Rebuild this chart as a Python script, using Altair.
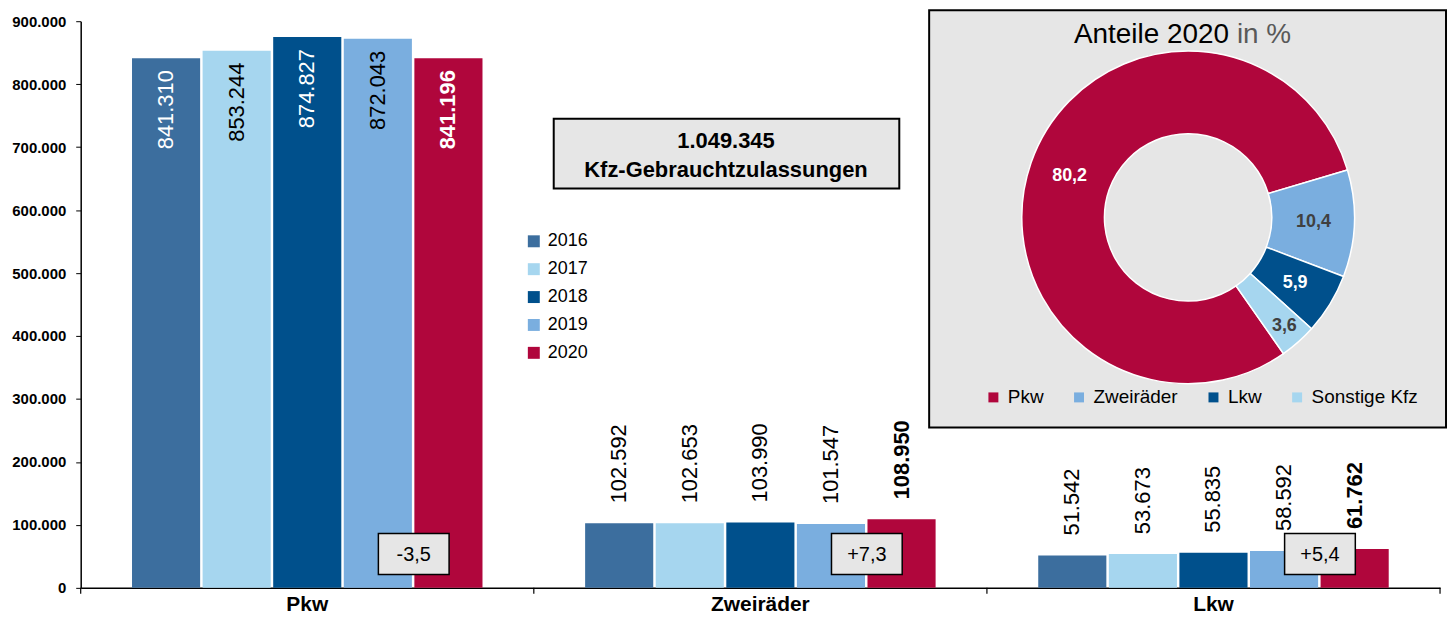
import math
import altair as alt
import pandas as pd

# ---------------- data ----------------
categories = ["Pkw", "Zweiräder", "Lkw"]
years = ["2016", "2017", "2018", "2019", "2020"]
pkw = [841310, 853244, 874827, 872043, 841196]
zweiraeder = [102592, 102653, 103990, 101547, 108950]
lkw = [51542, 53673, 55835, 58592, 61762]
changes = [-3.5, 7.3, 5.4]
total = 1049345
share_cats = ["Pkw", "Zweiräder", "Lkw", "Sonstige Kfz"]
shares = [80.2, 10.4, 5.9, 3.6]
y_ticks = [0, 100000, 200000, 300000, 400000, 500000, 600000, 700000, 800000, 900000]
total_caption = "Kfz-Gebrauchtzulassungen"
pie_title = "Anteile 2020"
pie_title_unit = "in %"

year_colors = ["#3C6E9E", "#A6D6EF", "#00508C", "#7AAEDF", "#B0063C"]
share_colors = ["#B0063C", "#7AAEDF", "#00508C", "#A6D6EF"]

FONT = "Liberation Sans"


def de_int(n):
    return f"{n:,}".replace(",", ".")


def de_dec(x, sign=False):
    s = f"{x:+.1f}" if sign else f"{x:.1f}"
    return s.replace(".", ",")


rows = []
for cat, vals in zip(categories, [pkw, zweiraeder, lkw]):
    for yr, v in zip(years, vals):
        rows.append({"cat": cat, "year": yr, "value": v, "label": de_int(v)})
bars_df = pd.DataFrame(rows)

change_df = pd.DataFrame({"cat": categories, "change": [de_dec(c, True) for c in changes]})
tick_df = pd.DataFrame({"cat": categories})
pie_df = pd.DataFrame({
    "Anteil": share_cats,
    "share": shares,
    "idx": list(range(len(shares))),
    "label": [de_dec(s) for s in shares],
})
one = pd.DataFrame({"k": [0]})

# ---------------- encodings ----------------
x_axis = alt.Axis(title=None, labelAngle=0, labelFontSize=21, labelFontWeight="bold",
                  labelColor="black", labelFont=FONT, ticks=False, domainColor="black",
                  domainWidth=1.5, labelPadding=6, labelBaseline="top")
x_scale = alt.Scale(domain=categories, paddingInner=0, paddingOuter=0)


def xenc(**kw):
    return alt.X("cat:N", sort=categories, scale=x_scale, axis=x_axis, **kw)


y_enc = alt.Y("value:Q", scale=alt.Scale(domain=[0, 900000], nice=False),
              axis=alt.Axis(title=None, values=y_ticks,
                            labelExpr="replace(format(datum.value, ',d'), ',', '.')",
                            labelFontSize=15, labelFontWeight="bold", labelColor="black",
                            labelFont=FONT, tickColor="black", tickSize=5, labelPadding=10,
                            domainColor="black", domainWidth=1.5, grid=False))
xoff = alt.XOffset("year:N", sort=years,
                   scale=alt.Scale(domain=years, paddingInner=0.035, paddingOuter=0.727))

base = alt.Chart(bars_df)

bars = base.mark_bar().encode(
    x=xenc(), xOffset=xoff, y=y_enc,
    color=alt.Color("year:N", sort=years,
                    scale=alt.Scale(domain=years, range=year_colors),
                    legend=alt.Legend(title=None, orient="none", legendX=446, legendY=212,
                                      symbolType="square", symbolSize=144, labelFontSize=18,
                                      labelFont=FONT, labelColor="black", rowPadding=10,
                                      labelOffset=5, padding=0, symbolStrokeWidth=0)),
)

inside_color = alt.condition("datum.year == '2017' || datum.year == '2019'",
                             alt.value("black"), alt.value("white"))

in_norm = base.transform_filter("datum.cat == 'Pkw' && datum.year != '2020'").mark_text(
    angle=270, align="right", baseline="middle", dx=-12, fontSize=22, font=FONT
).encode(x=xenc(), xOffset=xoff, y=y_enc, text="label:N", color=inside_color)

in_bold = base.transform_filter("datum.cat == 'Pkw' && datum.year == '2020'").mark_text(
    angle=270, align="right", baseline="middle", dx=-12, fontSize=22, font=FONT,
    fontWeight="bold", color="white"
).encode(x=xenc(), xOffset=xoff, y=y_enc, text="label:N")

out_norm = base.transform_filter("datum.cat != 'Pkw' && datum.year != '2020'").mark_text(
    angle=270, align="left", baseline="middle", dx=20, fontSize=22, font=FONT, color="black"
).encode(x=xenc(), xOffset=xoff, y=y_enc, text="label:N")

out_bold = base.transform_filter("datum.cat != 'Pkw' && datum.year == '2020'").mark_text(
    angle=270, align="left", baseline="middle", dx=20, fontSize=22, font=FONT,
    fontWeight="bold", color="black"
).encode(x=xenc(), xOffset=xoff, y=y_enc, text="label:N")

# change boxes
box_shape = "M-1,-0.577L1,-0.577L1,0.577L-1,0.577Z"
change_boxes = alt.Chart(change_df).mark_point(
    shape=box_shape, size=5041, filled=True, fill="#E6E6E6", stroke="black",
    strokeWidth=1.5, opacity=1
).encode(x=xenc(bandPosition=0.735), y=alt.value(535))

change_text = alt.Chart(change_df).mark_text(
    fontSize=20, font=FONT, color="black", align="center", baseline="middle"
).encode(x=xenc(bandPosition=0.735), y=alt.value(536), text="change:N")

# x ticks at band boundaries
ticks_start = alt.Chart(tick_df).mark_rule(color="black", strokeWidth=1.2).encode(
    x=xenc(bandPosition=0), y=alt.value(569), y2=alt.value(575))
ticks_end = alt.Chart(tick_df).transform_filter(f"datum.cat == '{categories[-1]}'").mark_rule(
    color="black", strokeWidth=1.2).encode(
    x=xenc(bandPosition=1), y=alt.value(569), y2=alt.value(575))

# total box
total_box = alt.Chart(one).mark_rect(fill="#E6E6E6", stroke="black", strokeWidth=2).encode(
    x=alt.value(475), x2=alt.value(822), y=alt.value(98), y2=alt.value(168))
total_l1 = alt.Chart(one).mark_text(
    text=de_int(total), fontSize=22, fontWeight="bold", font=FONT, color="black",
    align="center", baseline="alphabetic").encode(x=alt.value(648), y=alt.value(127))
total_l2 = alt.Chart(one).mark_text(
    text=total_caption, fontSize=22, fontWeight="bold", font=FONT, color="black",
    align="center", baseline="alphabetic").encode(x=alt.value(648), y=alt.value(156))

# pie panel
pie_box = alt.Chart(one).mark_rect(fill="#E6E6E6", stroke="black", strokeWidth=2).encode(
    x=alt.value(852), x2=alt.value(1371), y=alt.value(-11), y2=alt.value(408))

a0 = math.radians(145)
theta_enc = alt.Theta("share:Q", stack=True,
                      scale=alt.Scale(range=[a0, a0 + 2 * math.pi]))
pie_cx, pie_cy = 1112, 197

arcs = alt.Chart(pie_df).mark_arc(outerRadius=167, innerRadius=84, stroke="white",
                                  strokeWidth=1.5).encode(
    x=alt.value(pie_cx), y=alt.value(pie_cy), theta=theta_enc,
    order=alt.Order("idx:Q"),
    color=alt.Color("Anteil:N", sort=share_cats,
                    scale=alt.Scale(domain=share_cats, range=share_colors),
                    legend=alt.Legend(title=None, orient="none", direction="horizontal",
                                      legendX=907, legendY=368, symbolType="square",
                                      symbolSize=100, labelFontSize=19, labelFont=FONT,
                                      labelColor="black", columnPadding=26, labelOffset=5,
                                      padding=0, symbolStrokeWidth=0, labelLimit=300)),
)

label_color = alt.condition("datum.Anteil == 'Pkw' || datum.Anteil == 'Lkw'",
                            alt.value("white"), alt.value("#404040"))
small = share_cats[-1]

pie_labels = alt.Chart(pie_df).transform_calculate(
    t=f"datum.Anteil == '{small}' ? '' : datum.label").mark_text(
    radius=126, fontSize=18, fontWeight="bold", font=FONT).encode(
    x=alt.value(pie_cx), y=alt.value(pie_cy), theta=theta_enc,
    order=alt.Order("idx:Q"), text="t:N", color=label_color,
)
pie_label_small = alt.Chart(pie_df).transform_calculate(
    t=f"datum.Anteil == '{small}' ? datum.label : ''").mark_text(
    radius=146, fontSize=18, fontWeight="bold", font=FONT).encode(
    x=alt.value(pie_cx), y=alt.value(pie_cy), theta=theta_enc,
    order=alt.Order("idx:Q"), text="t:N", color=label_color,
)

title_a = alt.Chart(one).mark_text(text=pie_title, fontSize=28, font=FONT, color="black",
                                   align="right", baseline="alphabetic").encode(
    x=alt.value(1153), y=alt.value(22))
title_b = alt.Chart(one).mark_text(text=pie_title_unit, fontSize=28, font=FONT,
                                   color="#595959", align="left",
                                   baseline="alphabetic").encode(
    x=alt.value(1161), y=alt.value(22))

chart = alt.layer(
    pie_box, bars, in_norm, in_bold, out_norm, out_bold, change_boxes, change_text,
    ticks_start, ticks_end, total_box, total_l1, total_l2, arcs, pie_labels,
    pie_label_small, title_a, title_b,
).resolve_scale(color="independent").properties(
    width=1365, height=569,
    padding={"left": 73, "top": 12, "right": 8, "bottom": 29},
    autosize=alt.AutoSizeParams(type="none"),
).configure_view(stroke=None).configure_axis(grid=False)

chart.save("out.html", embed_options={"renderer": "svg", "actions": False})
